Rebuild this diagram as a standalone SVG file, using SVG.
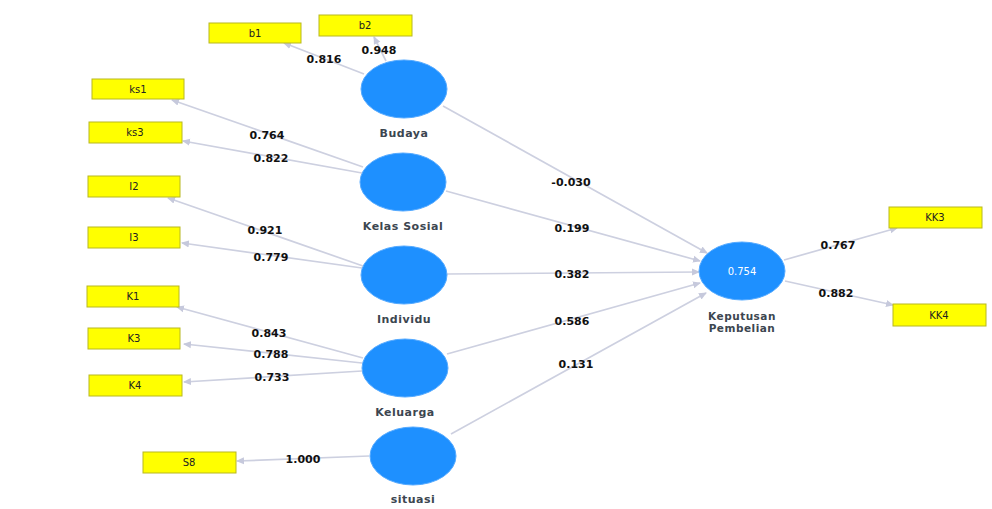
<svg xmlns="http://www.w3.org/2000/svg" width="992" height="509" viewBox="0 0 992 509">
<style>
.bg{fill:#ffffff}
.lv{fill:#1E90FF;stroke:#55aaff;stroke-width:1}
.ind{fill:#FFFF00;stroke:#b8b820;stroke-width:1}
.ln{stroke:#cdd0e0;stroke-width:1.7;fill:none;marker-end:url(#ah)}
.w{font-family:"DejaVu Sans",Verdana,sans-serif;font-size:11px;font-weight:bold;fill:#111;text-anchor:middle}
.nl{font-family:"DejaVu Sans",Verdana,sans-serif;font-size:11px;font-weight:bold;fill:#3c4650;text-anchor:middle;letter-spacing:0.5px}
.nl2{font-family:"DejaVu Sans",Verdana,sans-serif;font-size:10.5px;font-weight:bold;fill:#3c4650;text-anchor:middle;letter-spacing:0.5px}
.il{font-family:"DejaVu Sans",Verdana,sans-serif;font-size:10px;fill:#222;text-anchor:middle}
.r2{font-family:"DejaVu Sans",Verdana,sans-serif;font-size:10px;fill:#ffffff;text-anchor:middle}
</style>
<defs>
<marker id="ah" markerWidth="8" markerHeight="8" refX="7" refY="4" orient="auto" markerUnits="userSpaceOnUse">
<path d="M0,0.5 L8,4 L0,7.5 z" fill="#c6c9dc"/>
</marker>
</defs>
<rect class="bg" x="0" y="0" width="992" height="509"/>
<g id="connectors">
<line class="ln" x1="364" y1="74" x2="284" y2="43"/>
<line class="ln" x1="386" y1="61" x2="374" y2="37"/>
<line class="ln" x1="363" y1="167" x2="172" y2="100"/>
<line class="ln" x1="362" y1="173" x2="183" y2="141"/>
<line class="ln" x1="363" y1="266" x2="168" y2="198"/>
<line class="ln" x1="362" y1="268" x2="182" y2="243"/>
<line class="ln" x1="363" y1="358" x2="177" y2="307"/>
<line class="ln" x1="362" y1="363" x2="184" y2="344"/>
<line class="ln" x1="362" y1="371" x2="184" y2="382"/>
<line class="ln" x1="369" y1="456" x2="237" y2="461"/>
<line class="ln" x1="784" y1="260" x2="897" y2="228"/>
<line class="ln" x1="785" y1="281" x2="893" y2="305"/>
<line class="ln" x1="443" y1="106" x2="707" y2="253"/>
<line class="ln" x1="446" y1="191" x2="700" y2="261"/>
<line class="ln" x1="447" y1="274" x2="699" y2="272"/>
<line class="ln" x1="447" y1="354" x2="700" y2="283"/>
<line class="ln" x1="451" y1="434" x2="706" y2="293"/>
<text class="w" x="324" y="63">0.816</text>
<text class="w" x="379" y="54">0.948</text>
<text class="w" x="267" y="139">0.764</text>
<text class="w" x="271" y="162">0.822</text>
<text class="w" x="265" y="234">0.921</text>
<text class="w" x="271" y="261">0.779</text>
<text class="w" x="269" y="337">0.843</text>
<text class="w" x="271" y="358">0.788</text>
<text class="w" x="272" y="381">0.733</text>
<text class="w" x="303" y="463">1.000</text>
<text class="w" x="838" y="249">0.767</text>
<text class="w" x="836" y="297">0.882</text>
<text class="w" x="571" y="186">-0.030</text>
<text class="w" x="572" y="232">0.199</text>
<text class="w" x="572" y="278">0.382</text>
<text class="w" x="572" y="325">0.586</text>
<text class="w" x="576" y="368">0.131</text>
</g>
<g id="Budaya"><ellipse class="lv" cx="404" cy="89" rx="43" ry="29"/><text class="nl" x="404" y="137">Budaya</text></g>
<g id="KelasSosial"><ellipse class="lv" cx="403" cy="182" rx="43" ry="29"/><text class="nl" x="403" y="230">Kelas Sosial</text></g>
<g id="Individu"><ellipse class="lv" cx="404" cy="275" rx="43" ry="29"/><text class="nl" x="404" y="323">Individu</text></g>
<g id="Keluarga"><ellipse class="lv" cx="405" cy="368" rx="43" ry="29"/><text class="nl" x="405" y="416">Keluarga</text></g>
<g id="situasi"><ellipse class="lv" cx="413" cy="456" rx="43" ry="29"/><text class="nl" x="413" y="503">situasi</text></g>
<g id="KeputusanPembelian"><ellipse class="lv" cx="742" cy="271" rx="43" ry="29"/><text class="r2" x="742" y="275">0.754</text><text class="nl2" x="742" y="320">Keputusan</text><text class="nl2" x="742" y="332">Pembelian</text></g>
<g id="b1"><rect class="ind" x="209" y="23" width="92" height="20"/><text class="il" x="255" y="37">b1</text></g>
<g id="b2"><rect class="ind" x="319" y="15" width="93" height="21"/><text class="il" x="365" y="29">b2</text></g>
<g id="ks1"><rect class="ind" x="92" y="79" width="92" height="20"/><text class="il" x="138" y="93">ks1</text></g>
<g id="ks3"><rect class="ind" x="89" y="122" width="93" height="21"/><text class="il" x="135" y="136">ks3</text></g>
<g id="I2"><rect class="ind" x="88" y="176" width="92" height="21"/><text class="il" x="134" y="190">I2</text></g>
<g id="I3"><rect class="ind" x="88" y="227" width="92" height="21"/><text class="il" x="134" y="241">I3</text></g>
<g id="K1"><rect class="ind" x="87" y="286" width="92" height="21"/><text class="il" x="133" y="300">K1</text></g>
<g id="K3"><rect class="ind" x="88" y="328" width="92" height="21"/><text class="il" x="134" y="342">K3</text></g>
<g id="K4"><rect class="ind" x="89" y="375" width="93" height="21"/><text class="il" x="135" y="389">K4</text></g>
<g id="S8"><rect class="ind" x="143" y="452" width="93" height="21"/><text class="il" x="189" y="466">S8</text></g>
<g id="KK3"><rect class="ind" x="889" y="207" width="93" height="21"/><text class="il" x="935" y="221">KK3</text></g>
<g id="KK4"><rect class="ind" x="893" y="304" width="93" height="22"/><text class="il" x="939" y="319">KK4</text></g>
</svg>
